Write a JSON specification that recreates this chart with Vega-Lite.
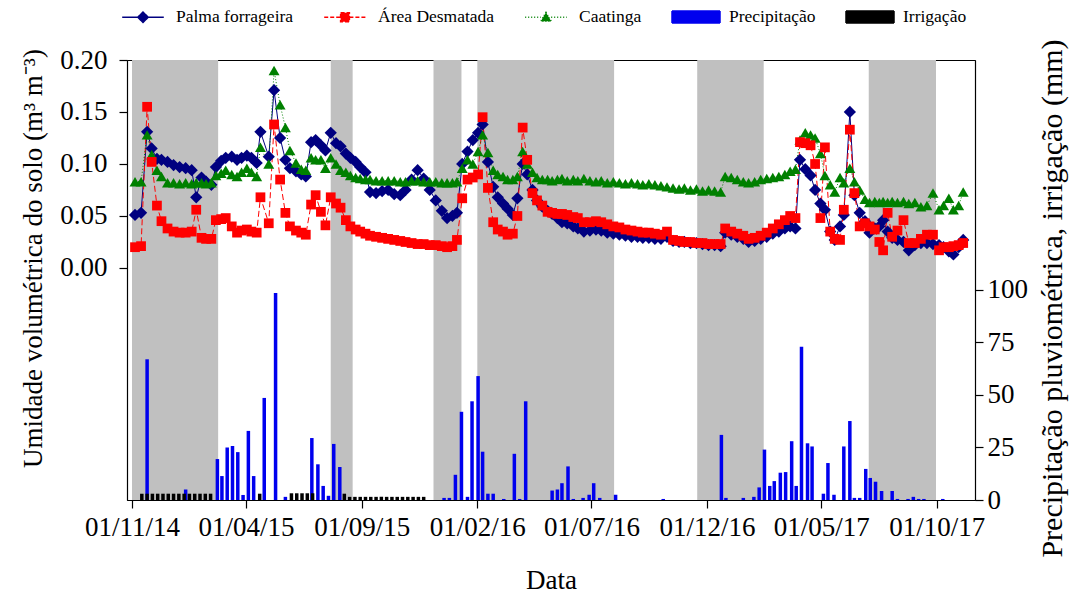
{
  "$schema": "https://vega.github.io/schema/vega-lite/v6.json",
  "width": 848,
  "height": 440,
  "autosize": {"type": "none"},
  "padding": {"left": 127, "top": 60, "right": 113, "bottom": 99},
  "background": "white",
  "config": {
    "font": "Liberation Serif",
    "view": {"stroke": "black", "strokeWidth": 1},
    "axis": {
      "grid": false,
      "labelFont": "Liberation Serif",
      "titleFont": "Liberation Serif",
      "labelFontSize": 27,
      "titleFontSize": 27,
      "titleFontWeight": "normal",
      "labelColor": "black",
      "titleColor": "black",
      "domainColor": "black",
      "tickColor": "black",
      "tickSize": 8,
      "domainWidth": 1.2,
      "tickWidth": 1.2
    }
  },
  "datasets": {
    "bands": [
      {"start": "2014-11-01", "end": "2015-02-23"},
      {"start": "2015-07-22", "end": "2015-08-20"},
      {"start": "2015-12-05", "end": "2016-01-11"},
      {"start": "2016-02-01", "end": "2016-07-31"},
      {"start": "2016-11-18", "end": "2017-02-14"},
      {"start": "2017-07-03", "end": "2017-09-30"}
    ],
    "soil": [
      {"d": "2014-11-05", "p": 0.051, "a": 0.020, "c": 0.083},
      {"d": "2014-11-13", "p": 0.053, "a": 0.021, "c": 0.083},
      {"d": "2014-11-21", "p": 0.131, "a": 0.155, "c": 0.128},
      {"d": "2014-11-27", "p": 0.115, "a": 0.102, "c": 0.109},
      {"d": "2014-12-04", "p": 0.105, "a": 0.060, "c": 0.094},
      {"d": "2014-12-10", "p": 0.104, "a": 0.045, "c": 0.088},
      {"d": "2014-12-18", "p": 0.102, "a": 0.038, "c": 0.082},
      {"d": "2014-12-26", "p": 0.099, "a": 0.035, "c": 0.082},
      {"d": "2015-01-03", "p": 0.097, "a": 0.034, "c": 0.081},
      {"d": "2015-01-11", "p": 0.096, "a": 0.034, "c": 0.082},
      {"d": "2015-01-19", "p": 0.094, "a": 0.035, "c": 0.081},
      {"d": "2015-01-25", "p": 0.068, "a": 0.056, "c": 0.082},
      {"d": "2015-02-01", "p": 0.087, "a": 0.029, "c": 0.082},
      {"d": "2015-02-07", "p": 0.083, "a": 0.028, "c": 0.081},
      {"d": "2015-02-14", "p": 0.080, "a": 0.028, "c": 0.082},
      {"d": "2015-02-20", "p": 0.097, "a": 0.046, "c": 0.089},
      {"d": "2015-02-27", "p": 0.103, "a": 0.047, "c": 0.091},
      {"d": "2015-03-05", "p": 0.106, "a": 0.048, "c": 0.094},
      {"d": "2015-03-13", "p": 0.107, "a": 0.040, "c": 0.090},
      {"d": "2015-03-20", "p": 0.104, "a": 0.034, "c": 0.088},
      {"d": "2015-03-26", "p": 0.106, "a": 0.036, "c": 0.092},
      {"d": "2015-04-02", "p": 0.108, "a": 0.037, "c": 0.096},
      {"d": "2015-04-08", "p": 0.106, "a": 0.035, "c": 0.092},
      {"d": "2015-04-15", "p": 0.101, "a": 0.034, "c": 0.088},
      {"d": "2015-04-20", "p": 0.131, "a": 0.068, "c": 0.116},
      {"d": "2015-05-01", "p": 0.107, "a": 0.043, "c": 0.100},
      {"d": "2015-05-08", "p": 0.171, "a": 0.138, "c": 0.190},
      {"d": "2015-05-16", "p": 0.125, "a": 0.085, "c": 0.157},
      {"d": "2015-05-23", "p": 0.104, "a": 0.053, "c": 0.135},
      {"d": "2015-05-29", "p": 0.096, "a": 0.040, "c": 0.113},
      {"d": "2015-06-06", "p": 0.093, "a": 0.036, "c": 0.101},
      {"d": "2015-06-13", "p": 0.090, "a": 0.034, "c": 0.095},
      {"d": "2015-06-19", "p": 0.088, "a": 0.032, "c": 0.094},
      {"d": "2015-06-26", "p": 0.121, "a": 0.061, "c": 0.106},
      {"d": "2015-07-02", "p": 0.123, "a": 0.070, "c": 0.104},
      {"d": "2015-07-09", "p": 0.118, "a": 0.054, "c": 0.104},
      {"d": "2015-07-15", "p": 0.113, "a": 0.041, "c": 0.096},
      {"d": "2015-07-22", "p": 0.130, "a": 0.068, "c": 0.106},
      {"d": "2015-07-29", "p": 0.120, "a": 0.062, "c": 0.100},
      {"d": "2015-08-04", "p": 0.117, "a": 0.058, "c": 0.094},
      {"d": "2015-08-11", "p": 0.110, "a": 0.046, "c": 0.092},
      {"d": "2015-08-17", "p": 0.106, "a": 0.040, "c": 0.089},
      {"d": "2015-08-24", "p": 0.102, "a": 0.037, "c": 0.087},
      {"d": "2015-08-30", "p": 0.097, "a": 0.035, "c": 0.086},
      {"d": "2015-09-06", "p": 0.092, "a": 0.033, "c": 0.085},
      {"d": "2015-09-12", "p": 0.073, "a": 0.031, "c": 0.085},
      {"d": "2015-09-20", "p": 0.072, "a": 0.030, "c": 0.084},
      {"d": "2015-09-28", "p": 0.074, "a": 0.029, "c": 0.084},
      {"d": "2015-10-06", "p": 0.075, "a": 0.028, "c": 0.084},
      {"d": "2015-10-14", "p": 0.071, "a": 0.027, "c": 0.084},
      {"d": "2015-10-22", "p": 0.070, "a": 0.026, "c": 0.083},
      {"d": "2015-10-29", "p": 0.075, "a": 0.025, "c": 0.083},
      {"d": "2015-11-06", "p": 0.085, "a": 0.024, "c": 0.084},
      {"d": "2015-11-14", "p": 0.094, "a": 0.023, "c": 0.084},
      {"d": "2015-11-22", "p": 0.086, "a": 0.023, "c": 0.083},
      {"d": "2015-11-30", "p": 0.075, "a": 0.022, "c": 0.083},
      {"d": "2015-12-08", "p": 0.065, "a": 0.022, "c": 0.083},
      {"d": "2015-12-16", "p": 0.055, "a": 0.021, "c": 0.082},
      {"d": "2015-12-23", "p": 0.048, "a": 0.020, "c": 0.082},
      {"d": "2015-12-30", "p": 0.050, "a": 0.021, "c": 0.082},
      {"d": "2016-01-05", "p": 0.053, "a": 0.027, "c": 0.083},
      {"d": "2016-01-12", "p": 0.100, "a": 0.067, "c": 0.096},
      {"d": "2016-01-19", "p": 0.112, "a": 0.085, "c": 0.104},
      {"d": "2016-01-26", "p": 0.123, "a": 0.087, "c": 0.100},
      {"d": "2016-02-02", "p": 0.130, "a": 0.090, "c": 0.112},
      {"d": "2016-02-08", "p": 0.138, "a": 0.145, "c": 0.128},
      {"d": "2016-02-15", "p": 0.102, "a": 0.077, "c": 0.111},
      {"d": "2016-02-22", "p": 0.078, "a": 0.044, "c": 0.094},
      {"d": "2016-02-28", "p": 0.068, "a": 0.037, "c": 0.090},
      {"d": "2016-03-06", "p": 0.062, "a": 0.035, "c": 0.088},
      {"d": "2016-03-12", "p": 0.057, "a": 0.032, "c": 0.085},
      {"d": "2016-03-19", "p": 0.051, "a": 0.033, "c": 0.085},
      {"d": "2016-03-25", "p": 0.067, "a": 0.050, "c": 0.088},
      {"d": "2016-04-01", "p": 0.100, "a": 0.135, "c": 0.112},
      {"d": "2016-04-07", "p": 0.090, "a": 0.104, "c": 0.100},
      {"d": "2016-04-14", "p": 0.075, "a": 0.072, "c": 0.092},
      {"d": "2016-04-20", "p": 0.065, "a": 0.065, "c": 0.087},
      {"d": "2016-04-27", "p": 0.059, "a": 0.060, "c": 0.085},
      {"d": "2016-05-04", "p": 0.055, "a": 0.054, "c": 0.085},
      {"d": "2016-05-10", "p": 0.052, "a": 0.053, "c": 0.084},
      {"d": "2016-05-17", "p": 0.048, "a": 0.052, "c": 0.085},
      {"d": "2016-05-23", "p": 0.044, "a": 0.052, "c": 0.086},
      {"d": "2016-05-30", "p": 0.043, "a": 0.051, "c": 0.084},
      {"d": "2016-06-07", "p": 0.040, "a": 0.049, "c": 0.085},
      {"d": "2016-06-13", "p": 0.038, "a": 0.048, "c": 0.084},
      {"d": "2016-06-21", "p": 0.035, "a": 0.044, "c": 0.086},
      {"d": "2016-06-29", "p": 0.036, "a": 0.044, "c": 0.084},
      {"d": "2016-07-07", "p": 0.037, "a": 0.045, "c": 0.083},
      {"d": "2016-07-14", "p": 0.036, "a": 0.044, "c": 0.084},
      {"d": "2016-07-22", "p": 0.034, "a": 0.042, "c": 0.082},
      {"d": "2016-07-30", "p": 0.033, "a": 0.040, "c": 0.083},
      {"d": "2016-08-07", "p": 0.032, "a": 0.039, "c": 0.082},
      {"d": "2016-08-15", "p": 0.031, "a": 0.037, "c": 0.081},
      {"d": "2016-08-23", "p": 0.030, "a": 0.036, "c": 0.082},
      {"d": "2016-08-31", "p": 0.030, "a": 0.035, "c": 0.081},
      {"d": "2016-09-07", "p": 0.029, "a": 0.034, "c": 0.080},
      {"d": "2016-09-15", "p": 0.029, "a": 0.034, "c": 0.081},
      {"d": "2016-09-23", "p": 0.028, "a": 0.033, "c": 0.080},
      {"d": "2016-10-01", "p": 0.028, "a": 0.032, "c": 0.079},
      {"d": "2016-10-09", "p": 0.030, "a": 0.035, "c": 0.078},
      {"d": "2016-10-17", "p": 0.026, "a": 0.027, "c": 0.077},
      {"d": "2016-10-25", "p": 0.025, "a": 0.026, "c": 0.076},
      {"d": "2016-11-01", "p": 0.025, "a": 0.025, "c": 0.077},
      {"d": "2016-11-09", "p": 0.024, "a": 0.025, "c": 0.075},
      {"d": "2016-11-17", "p": 0.024, "a": 0.024, "c": 0.076},
      {"d": "2016-11-25", "p": 0.023, "a": 0.024, "c": 0.074},
      {"d": "2016-12-03", "p": 0.022, "a": 0.023, "c": 0.075},
      {"d": "2016-12-11", "p": 0.022, "a": 0.023, "c": 0.074},
      {"d": "2016-12-19", "p": 0.021, "a": 0.023, "c": 0.073},
      {"d": "2016-12-25", "p": 0.034, "a": 0.038, "c": 0.088},
      {"d": "2017-01-02", "p": 0.032, "a": 0.035, "c": 0.087},
      {"d": "2017-01-10", "p": 0.030, "a": 0.033, "c": 0.085},
      {"d": "2017-01-18", "p": 0.028, "a": 0.031, "c": 0.083},
      {"d": "2017-01-25", "p": 0.025, "a": 0.028, "c": 0.082},
      {"d": "2017-02-02", "p": 0.026, "a": 0.029, "c": 0.083},
      {"d": "2017-02-10", "p": 0.028, "a": 0.031, "c": 0.085},
      {"d": "2017-02-18", "p": 0.030, "a": 0.034, "c": 0.086},
      {"d": "2017-02-26", "p": 0.033, "a": 0.038, "c": 0.087},
      {"d": "2017-03-06", "p": 0.035, "a": 0.042, "c": 0.088},
      {"d": "2017-03-14", "p": 0.038, "a": 0.046, "c": 0.090},
      {"d": "2017-03-21", "p": 0.040, "a": 0.050, "c": 0.093},
      {"d": "2017-03-28", "p": 0.038, "a": 0.048, "c": 0.095},
      {"d": "2017-04-03", "p": 0.104, "a": 0.121, "c": 0.123},
      {"d": "2017-04-10", "p": 0.095, "a": 0.120, "c": 0.130},
      {"d": "2017-04-17", "p": 0.089, "a": 0.118, "c": 0.128},
      {"d": "2017-04-23", "p": 0.075, "a": 0.100, "c": 0.125},
      {"d": "2017-04-30", "p": 0.062, "a": 0.048, "c": 0.110},
      {"d": "2017-05-06", "p": 0.056, "a": 0.116, "c": 0.089},
      {"d": "2017-05-13", "p": 0.035, "a": 0.035, "c": 0.080},
      {"d": "2017-05-19", "p": 0.027, "a": 0.028, "c": 0.073},
      {"d": "2017-05-26", "p": 0.040, "a": 0.027, "c": 0.087},
      {"d": "2017-05-31", "p": 0.051, "a": 0.056, "c": 0.082},
      {"d": "2017-06-08", "p": 0.150, "a": 0.133, "c": 0.096},
      {"d": "2017-06-14", "p": 0.070, "a": 0.072, "c": 0.083},
      {"d": "2017-06-21", "p": 0.053, "a": 0.040, "c": 0.075},
      {"d": "2017-06-28", "p": 0.045, "a": 0.043, "c": 0.066},
      {"d": "2017-07-04", "p": 0.034, "a": 0.040, "c": 0.063},
      {"d": "2017-07-11", "p": 0.038, "a": 0.037, "c": 0.064},
      {"d": "2017-07-17", "p": 0.040, "a": 0.025, "c": 0.063},
      {"d": "2017-07-22", "p": 0.046, "a": 0.017, "c": 0.064},
      {"d": "2017-07-28", "p": 0.035, "a": 0.053, "c": 0.063},
      {"d": "2017-08-03", "p": 0.029, "a": 0.030, "c": 0.064},
      {"d": "2017-08-10", "p": 0.027, "a": 0.036, "c": 0.063},
      {"d": "2017-08-18", "p": 0.025, "a": 0.046, "c": 0.064},
      {"d": "2017-08-25", "p": 0.017, "a": 0.024, "c": 0.062},
      {"d": "2017-09-02", "p": 0.022, "a": 0.024, "c": 0.063},
      {"d": "2017-09-10", "p": 0.024, "a": 0.028, "c": 0.059},
      {"d": "2017-09-18", "p": 0.024, "a": 0.032, "c": 0.060},
      {"d": "2017-09-26", "p": 0.023, "a": 0.032, "c": 0.072},
      {"d": "2017-10-04", "p": 0.022, "a": 0.017, "c": 0.056},
      {"d": "2017-10-10", "p": 0.020, "a": 0.020, "c": 0.060},
      {"d": "2017-10-17", "p": 0.016, "a": 0.020, "c": 0.067},
      {"d": "2017-10-23", "p": 0.013, "a": 0.021, "c": 0.056},
      {"d": "2017-10-30", "p": 0.020, "a": 0.022, "c": 0.060},
      {"d": "2017-11-05", "p": 0.027, "a": 0.024, "c": 0.073}
    ],
    "rain": [
      {"d": "2014-11-21", "v": 67},
      {"d": "2015-01-11", "v": 5},
      {"d": "2015-02-22", "v": 19.5},
      {"d": "2015-02-28", "v": 11.4},
      {"d": "2015-03-07", "v": 25},
      {"d": "2015-03-14", "v": 25.7},
      {"d": "2015-03-21", "v": 22.8},
      {"d": "2015-03-28", "v": 2.4},
      {"d": "2015-04-04", "v": 32.9},
      {"d": "2015-04-11", "v": 11.4},
      {"d": "2015-04-25", "v": 48.6},
      {"d": "2015-05-10", "v": 98.6},
      {"d": "2015-05-23", "v": 1.5},
      {"d": "2015-06-27", "v": 29.5},
      {"d": "2015-07-05", "v": 17},
      {"d": "2015-07-12", "v": 6.7},
      {"d": "2015-07-19", "v": 2},
      {"d": "2015-07-26", "v": 26.7},
      {"d": "2015-08-03", "v": 15.7},
      {"d": "2015-12-19", "v": 1},
      {"d": "2015-12-26", "v": 1},
      {"d": "2016-01-03", "v": 12},
      {"d": "2016-01-11", "v": 42},
      {"d": "2016-01-19", "v": 1.5},
      {"d": "2016-01-25", "v": 47},
      {"d": "2016-02-02", "v": 59},
      {"d": "2016-02-08", "v": 23},
      {"d": "2016-02-15", "v": 3},
      {"d": "2016-02-22", "v": 3},
      {"d": "2016-03-07", "v": 0.5},
      {"d": "2016-03-21", "v": 22},
      {"d": "2016-03-28", "v": 0.5},
      {"d": "2016-04-05", "v": 47},
      {"d": "2016-05-10", "v": 4.5},
      {"d": "2016-05-17", "v": 5},
      {"d": "2016-05-23", "v": 8},
      {"d": "2016-05-31", "v": 16},
      {"d": "2016-06-07", "v": 0.5},
      {"d": "2016-06-20", "v": 1},
      {"d": "2016-06-28", "v": 2.5},
      {"d": "2016-07-04", "v": 8},
      {"d": "2016-07-12", "v": 1},
      {"d": "2016-08-02", "v": 2.5},
      {"d": "2016-10-04", "v": 0.5},
      {"d": "2016-12-20", "v": 31},
      {"d": "2016-12-26", "v": 1},
      {"d": "2017-01-18", "v": 1},
      {"d": "2017-02-01", "v": 1.5},
      {"d": "2017-02-08", "v": 6},
      {"d": "2017-02-15", "v": 24},
      {"d": "2017-02-22", "v": 6.7},
      {"d": "2017-02-28", "v": 9},
      {"d": "2017-03-08", "v": 13},
      {"d": "2017-03-15", "v": 13.3},
      {"d": "2017-03-23", "v": 28},
      {"d": "2017-03-29", "v": 6.7},
      {"d": "2017-04-05", "v": 73},
      {"d": "2017-04-13", "v": 27},
      {"d": "2017-04-19", "v": 25.5},
      {"d": "2017-05-04", "v": 3},
      {"d": "2017-05-10", "v": 17.6},
      {"d": "2017-05-18", "v": 2.5},
      {"d": "2017-05-31", "v": 25.5},
      {"d": "2017-06-08", "v": 37.6},
      {"d": "2017-06-14", "v": 1},
      {"d": "2017-06-21", "v": 1},
      {"d": "2017-06-29", "v": 14.8},
      {"d": "2017-07-05", "v": 10.5},
      {"d": "2017-07-12", "v": 8.7},
      {"d": "2017-07-20", "v": 4.3},
      {"d": "2017-08-03", "v": 4.3},
      {"d": "2017-08-10", "v": 0.5},
      {"d": "2017-08-24", "v": 0.5},
      {"d": "2017-08-31", "v": 1.5},
      {"d": "2017-09-07", "v": 0.5},
      {"d": "2017-09-14", "v": 0.5},
      {"d": "2017-10-09", "v": 0.5}
    ],
    "irr": [
      {"d": "2014-11-14", "v": 3},
      {"d": "2014-11-21", "v": 3},
      {"d": "2014-11-28", "v": 3},
      {"d": "2014-12-05", "v": 3},
      {"d": "2014-12-12", "v": 3},
      {"d": "2014-12-19", "v": 3},
      {"d": "2014-12-26", "v": 3},
      {"d": "2015-01-02", "v": 3},
      {"d": "2015-01-09", "v": 3},
      {"d": "2015-01-16", "v": 3},
      {"d": "2015-01-23", "v": 3},
      {"d": "2015-01-30", "v": 3},
      {"d": "2015-02-06", "v": 3},
      {"d": "2015-02-13", "v": 3},
      {"d": "2015-04-19", "v": 3},
      {"d": "2015-05-31", "v": 3.2},
      {"d": "2015-06-07", "v": 3.2},
      {"d": "2015-06-14", "v": 3.2},
      {"d": "2015-06-21", "v": 3.2},
      {"d": "2015-06-28", "v": 3.2},
      {"d": "2015-08-09", "v": 3},
      {"d": "2015-08-16", "v": 1.5},
      {"d": "2015-08-23", "v": 1.5},
      {"d": "2015-08-30", "v": 1.5},
      {"d": "2015-09-06", "v": 1.5},
      {"d": "2015-09-13", "v": 1.5},
      {"d": "2015-09-20", "v": 1.5},
      {"d": "2015-09-27", "v": 1.5},
      {"d": "2015-10-04", "v": 1.5},
      {"d": "2015-10-11", "v": 1.5},
      {"d": "2015-10-18", "v": 1.5},
      {"d": "2015-10-25", "v": 1.5},
      {"d": "2015-11-01", "v": 1.5},
      {"d": "2015-11-08", "v": 1.5},
      {"d": "2015-11-15", "v": 1.5},
      {"d": "2015-11-22", "v": 1.5}
    ]
  },
  "resolve": {"scale": {"y": "independent"}},
  "layer": [
    {
      "data": {"name": "bands"},
      "mark": {"type": "rect", "color": "#c0c0c0"},
      "encoding": {
        "x": {
          "field": "start",
          "type": "temporal",
          "title": "Data",
          "scale": {
            "type": "utc",
            "domain": [
              {"year": 2014, "month": 11, "date": 1, "utc": true},
              {"year": 2017, "month": 11, "date": 14, "utc": true}
            ]
          },
          "axis": {
            "title": "Data",
            "format": "%d/%m/%y",
            "values": [
              {"year": 2014, "month": 11, "date": 1, "utc": true},
              {"year": 2015, "month": 4, "date": 1, "utc": true},
              {"year": 2015, "month": 9, "date": 1, "utc": true},
              {"year": 2016, "month": 2, "date": 1, "utc": true},
              {"year": 2016, "month": 7, "date": 1, "utc": true},
              {"year": 2016, "month": 12, "date": 1, "utc": true},
              {"year": 2017, "month": 5, "date": 1, "utc": true},
              {"year": 2017, "month": 10, "date": 1, "utc": true}
            ],
            "labelPadding": 6,
            "titlePadding": 27,
            "labelOverlap": false
          }
        },
        "x2": {"field": "end"}
      }
    },
    {
      "encoding": {
        "x": {"field": "d", "type": "temporal", "title": "Data"}
      },
      "layer": [
        {
          "data": {"name": "rain"},
          "mark": {"type": "bar", "size": 3.5},
          "encoding": {
            "y": {
              "field": "v",
              "type": "quantitative",
              "title": "Precipitação pluviométrica, irrigação (mm)",
              "scale": {"domain": [0, 209.5], "nice": false, "zero": true},
              "axis": {
                "orient": "right",
                "title": "Precipitação pluviométrica, irrigação (mm)",
                "values": [0, 25, 50, 75, 100],
                "labelPadding": 4,
                "titleAngle": 270,
                "titleFontSize": 30,
                "titlePadding": 40,
                "titleY": 238
              }
            },
            "color": {
              "datum": "Precipitação",
              "type": "nominal",
              "scale": {
                "domain": ["Palma forrageira", "Área Desmatada", "Caatinga", "Precipitação", "Irrigação"],
                "range": ["#000080", "#ff0000", "#008000", "#0000ee", "#000000"]
              },
              "legend": {
                "title": null,
                "orient": "none",
                "direction": "horizontal",
                "legendX": 7,
                "legendY": -52,
                "labelFont": "Liberation Serif",
                "labelFontSize": 17.5,
                "labelColor": "black",
                "symbolSize": 256,
                "symbolStrokeWidth": 1.5,
                "labelOffset": 24,
                "columnPadding": 27,
                "encode": {
                  "symbols": {
                    "update": {
                      "shape": {"signal": "datum.value === 'Palma forrageira' ? 'M-2.6,0H-0.65M0.65,0H2.6M0,-0.65L0.65,0L0,0.65L-0.65,0Z' : datum.value === 'Área Desmatada' ? 'M-2.6,0H-0.55M0.55,0H2.6M-0.55,-0.55H0.55V0.55H-0.55Z' : datum.value === 'Caatinga' ? 'M-2.6,0H-0.65M0.65,0H2.6M0,-0.6L0.65,0.5H-0.65Z' : 'M-3,-0.75H3V0.75H-3Z'"},
                      "fill": {"signal": "scale('color', datum.value)"},
                      "stroke": {"signal": "scale('color', datum.value)"},
                      "strokeDash": {"signal": "datum.value === 'Área Desmatada' ? [4, 2] : datum.value === 'Caatinga' ? [1, 2] : [1, 0]"},
                      "size": {"value": 256},
                      "opacity": {"value": 1}
                    }
                  }
                }
              }
            }
          }
        },
        {
          "data": {"name": "irr"},
          "mark": {"type": "bar", "size": 3.5},
          "encoding": {
            "y": {"field": "v", "type": "quantitative", "title": "Precipitação pluviométrica, irrigação (mm)"},
            "color": {"datum": "Irrigação", "type": "nominal"}
          }
        }
      ]
    },
    {
      "data": {"name": "soil"},
      "encoding": {
        "x": {"field": "d", "type": "temporal", "title": "Data"}
      },
      "layer": [
        {
          "mark": {"type": "line", "strokeWidth": 1},
          "encoding": {
            "y": {
              "field": "p",
              "type": "quantitative",
              "title": "Umidade volumétrica do solo (m³ m⁻³)",
              "scale": {"domain": [-0.2231, 0.2], "nice": false, "zero": false},
              "axis": {
                "orient": "left",
                "title": "Umidade volumétrica do solo (m³ m⁻³)",
                "values": [0, 0.05, 0.1, 0.15, 0.2],
                "format": ".2f",
                "labelPadding": 12,
                "titlePadding": 12,
                "titleY": 198
              }
            },
            "color": {"datum": "Palma forrageira", "type": "nominal"}
          }
        },
        {
          "mark": {"type": "line", "strokeWidth": 1, "strokeDash": [6, 3]},
          "encoding": {
            "y": {"field": "a", "type": "quantitative", "title": "Umidade volumétrica do solo (m³ m⁻³)"},
            "color": {"datum": "Área Desmatada", "type": "nominal"}
          }
        },
        {
          "mark": {"type": "line", "strokeWidth": 1, "strokeDash": [1, 2]},
          "encoding": {
            "y": {"field": "c", "type": "quantitative", "title": "Umidade volumétrica do solo (m³ m⁻³)"},
            "color": {"datum": "Caatinga", "type": "nominal"}
          }
        },
        {
          "mark": {"type": "point", "shape": "diamond", "filled": true, "size": 150, "opacity": 1},
          "encoding": {
            "y": {"field": "p", "type": "quantitative", "title": "Umidade volumétrica do solo (m³ m⁻³)"},
            "color": {"datum": "Palma forrageira", "type": "nominal"}
          }
        },
        {
          "mark": {"type": "point", "shape": "triangle-up", "filled": true, "size": 120, "opacity": 1},
          "encoding": {
            "y": {"field": "c", "type": "quantitative", "title": "Umidade volumétrica do solo (m³ m⁻³)"},
            "color": {"datum": "Caatinga", "type": "nominal"}
          }
        },
        {
          "mark": {"type": "point", "shape": "square", "filled": true, "size": 95, "opacity": 1},
          "encoding": {
            "y": {"field": "a", "type": "quantitative", "title": "Umidade volumétrica do solo (m³ m⁻³)"},
            "color": {"datum": "Área Desmatada", "type": "nominal"}
          }
        }
      ]
    }
  ]
}
